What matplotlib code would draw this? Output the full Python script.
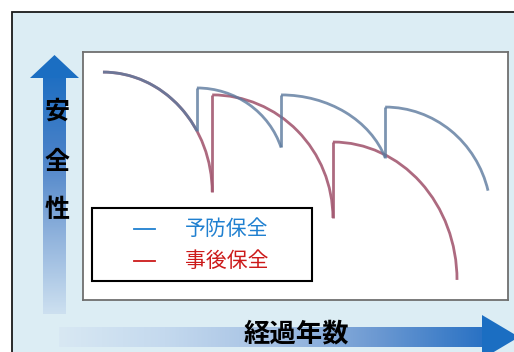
import numpy as np
import matplotlib
matplotlib.use('Agg')
import matplotlib.pyplot as plt
from matplotlib.patches import Arc, Rectangle, Polygon
from matplotlib.colors import LinearSegmentedColormap

plt.rcParams['font.family'] = ['Noto Sans CJK JP', 'DejaVu Sans']

# ---- data (x: elapsed years, 0-100 across the panel; y: safety level 0-100) ----
series_names = ['予防保全', '事後保全']

# 事後保全 (corrective maintenance): each segment a quarter-ellipse decay
red_x0 = [4.7, 30.4, 58.8]
red_top = [91.9, 82.7, 63.7]
red_w = [25.7, 28.4, 29.2]
red_h = [48.4, 49.6, 55.6]
red_cut = [30.4, 58.8, 88.0]

# 予防保全 (preventive maintenance)
blue_x0 = [4.7, 26.8, 46.6, 71.1]
blue_top = [91.9, 85.5, 82.7, 77.8]
blue_w = [25.7, 20.8, 25.8, 24.9]
blue_h = [48.4, 34.6, 36.9, 44.1]
blue_cut = [26.8, 46.6, 71.1, 95.3]

x_label = '経過年数'
y_label = '安全性'

W, H = 514, 352
fig = plt.figure(figsize=(W / 100, H / 100), dpi=100)
fig.patch.set_facecolor('white')

# background axes in pixel coordinates
bg = fig.add_axes([0, 0, 1, 1], zorder=0)
bg.set_xlim(0, W)
bg.set_ylim(H, 0)
bg.axis('off')
bg.add_patch(Rectangle((12, 12), 700, 500, facecolor='#dcedf4',
                       edgecolor='#1a1a1a', lw=1.3))

# main plot axes
ax = fig.add_axes([83 / W, (H - 300) / H, 425 / W, 248 / H], zorder=1)
ax.set_xlim(0, 100)
ax.set_ylim(0, 100)
ax.set_xticks([])
ax.set_yticks([])
ax.set_facecolor('white')
for s in ax.spines.values():
    s.set_color('#6f6f6f')
    s.set_linewidth(1.3)


def draw_segments(x0s, tops, ws, hs, cuts, color, alpha, z):
    bottoms = []
    for x0, top, w, h, cut in zip(x0s, tops, ws, hs, cuts):
        cx, cy = x0, top - h
        dx = cut - x0
        dy = h * np.sqrt(max(0.0, 1 - (dx / w) ** 2))
        th1 = np.degrees(np.arctan2(dy, dx))
        ax.add_patch(Arc((cx, cy), 2 * w, 2 * h, theta1=th1, theta2=90,
                         color=color, lw=2.0, alpha=alpha, zorder=z))
        bottoms.append(cy + dy)
    for i in range(len(x0s) - 1):
        ax.vlines(cuts[i], bottoms[i], tops[i + 1], color=color, lw=2.0,
                  alpha=alpha, zorder=z)


draw_segments(red_x0, red_top, red_w, red_h, red_cut, '#a45a72', 0.9, 2)
draw_segments(blue_x0, blue_top, blue_w, blue_h, blue_cut, '#5c7a9e', 0.8, 3)

# overlay axes for arrows, labels and legend
ov = fig.add_axes([0, 0, 1, 1], zorder=2)
ov.patch.set_alpha(0)
ov.axis('off')


def grad_fill(poly_xy, extent, colors, horizontal):
    cmap = LinearSegmentedColormap.from_list('g', colors)
    g = np.linspace(0, 1, 256)
    arr = g[None, :] if horizontal else g[:, None]
    poly = Polygon(poly_xy, closed=True, facecolor='none', edgecolor='none')
    ov.add_patch(poly)
    im = ov.imshow(arr, cmap=cmap, extent=extent, origin='lower',
                   aspect='auto', interpolation='bilinear')
    im.set_clip_path(poly)


# vertical arrow (safety)
grad_fill([(43, 314), (66, 314), (66, 77), (43, 77)], (43, 66, 314, 77),
          ['#cde0f0', '#8fb2dc', '#4a82c8', '#1f6fc2'], False)
ov.add_patch(Polygon([(30, 78), (79, 78), (54.5, 55)], closed=True,
                     facecolor='#1b6ec2', edgecolor='none'))

# horizontal arrow (years)
grad_fill([(59, 327), (483, 327), (483, 347), (59, 347)], (59, 483, 347, 327),
          ['#d8e8f3', '#c4d9ee', '#a6c2e4', '#6c99d2', '#2a72c4'], True)
ov.add_patch(Polygon([(482, 315), (482, 359), (519, 337)], closed=True,
                     facecolor='#1b6ec2', edgecolor='none'))

ov.set_xlim(0, W)
ov.set_ylim(H, 0)

for ch, y in zip(y_label, [112, 162, 210]):
    ov.text(57, y, ch, ha='center', va='center', fontsize=18,
            fontweight='bold', color='black')
ov.text(296, 334, x_label, ha='center', va='center', fontsize=19,
        fontweight='bold', color='black')

# legend
ov.add_patch(Rectangle((91.5, 207.5), 220.5, 73.5, facecolor='white',
                       edgecolor='black', lw=1.5))
leg_colors = ['#2080d0', '#cc1a1a']
for name, c, y in zip(series_names, leg_colors, [229, 261]):
    ov.plot([134, 155], [y, y], color=c, lw=1.3)
    ov.text(185, y, name, ha='left', va='center', fontsize=15, color=c)

ov.set_xlim(0, W)
ov.set_ylim(H, 0)

fig.savefig('out.png', dpi=100)
